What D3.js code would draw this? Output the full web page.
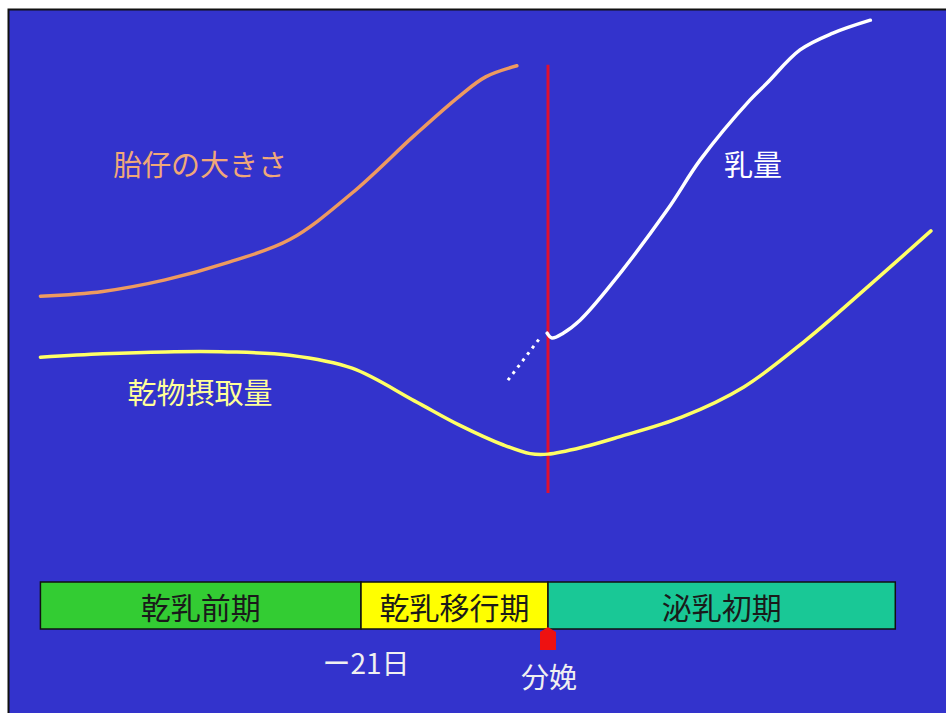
<!DOCTYPE html>
<html><head><meta charset="utf-8">
<script src="https://cdn.jsdelivr.net/npm/d3@7"></script>
<style>html,body{margin:0;padding:0;background:#fff;}svg{display:block;}</style>
</head><body>
<svg id="chart" width="946" height="713"></svg>
<script>
// Days relative to calving (0 = 分娩); values in relative units (0-100)
const fetusDays   = [-57, -50, -43, -36, -29, -22, -15, -10, -7, -3.5];
const fetusValues = [41.0, 42.0, 44.4, 48.0, 52.8, 62.5, 74.5, 82.6, 86.7, 89.0];

const dmiDays   = [-57, -50, -43, -36, -29, -22, -15, -10, -5, -2, 0, 4, 8, 15, 22, 29, 36, 43];
const dmiValues = [28.3, 29.0, 29.4, 29.4, 28.7, 26.0, 19.2, 14.2, 10.0, 8.2, 8.1, 9.6, 11.7, 15.8, 22.1, 31.9, 43.1, 54.6];

const milkPreDays   = [-4.5, -0.9];
const milkPreValues = [23.5, 32.3];
const milkDays   = [-0.1, 0.45, 1.7, 3.6, 6.6, 13.4, 17.1, 22.7, 24.6, 28.3, 32.0, 36.2];
const milkValues = [33.3, 32.3, 33.3, 36.0, 42.3, 59.0, 69.4, 81.9, 85.4, 92.3, 95.8, 98.5];

const phaseNames = ["乾乳前期", "乾乳移行期", "泌乳初期"];
const phaseStart = [-57, -21, 0];
const phaseEnd   = [-21, 0, 39];
const phaseColors = ["#33cc33", "#ffff00", "#19c896"];

const calvingDay = 0;
const calvingLineTop = 89.2;
const transitionLabel = "ー21日";
const calvingLabel = "分娩";
const seriesLabels = ["胎仔の大きさ", "乾物摂取量", "乳量"];

const svg = d3.select("#chart");
const x = d3.scaleLinear().domain([-21, 0]).range([361, 548]);
const y = d3.scaleLinear().domain([0, 100]).range([493, 13]);
const font = "'Noto Sans CJK JP', 'Noto Sans', sans-serif";

// background panel
svg.append("rect").attr("x", 8.5).attr("y", 9.5).attr("width", 946).attr("height", 713)
  .attr("fill", "#3333cc").attr("stroke", "#111").attr("stroke-width", 2);

const line = d3.line().x(d => x(d[0])).y(d => y(d[1])).curve(d3.curveCatmullRom.alpha(0.5));
const zip = (a, b) => a.map((v, i) => [v, b[i]]);

// calving vertical line
svg.append("line").attr("x1", x(calvingDay)).attr("x2", x(calvingDay))
  .attr("y1", y(calvingLineTop)).attr("y2", y(0))
  .attr("stroke", "#e01030").attr("stroke-width", 3);

// fetus size
svg.append("path").attr("d", line(zip(fetusDays, fetusValues)))
  .attr("fill", "none").attr("stroke", "#ee9a60").attr("stroke-width", 3.5).attr("stroke-linecap", "round");
// DMI
svg.append("path").attr("d", line(zip(dmiDays, dmiValues)))
  .attr("fill", "none").attr("stroke", "#ffff66").attr("stroke-width", 3.5).attr("stroke-linecap", "round");
// milk (pre, dotted)
svg.append("path").attr("d", line(zip(milkPreDays, milkPreValues)))
  .attr("fill", "none").attr("stroke", "#ffffff").attr("stroke-width", 3).attr("stroke-dasharray", "3,5");
// milk
svg.append("path").attr("d", line(zip(milkDays, milkValues)))
  .attr("fill", "none").attr("stroke", "#ffffff").attr("stroke-width", 3.5).attr("stroke-linecap", "round");

// series labels
svg.append("text").attr("x", 200).attr("y", 163).text(seriesLabels[0])
  .attr("fill", "#f0a878");
svg.append("text").attr("x", 200).attr("y", 391).text(seriesLabels[1])
  .attr("fill", "#ffff99");
svg.append("text").attr("x", 753).attr("y", 163).text(seriesLabels[2])
  .attr("fill", "#ffffff");
svg.selectAll("text").attr("text-anchor", "middle").attr("dominant-baseline", "central")
  .attr("font-family", font).attr("font-size", 29);

// phase bar
const barTop = 582, barH = 47;
const phases = phaseNames.map((n, i) => ({name: n, s: phaseStart[i], e: phaseEnd[i], c: phaseColors[i]}));
svg.selectAll("rect.phase").data(phases).enter().append("rect").attr("class", "phase")
  .attr("x", d => x(d.s)).attr("y", barTop).attr("width", d => x(d.e) - x(d.s)).attr("height", barH)
  .attr("fill", d => d.c).attr("stroke", "#111").attr("stroke-width", 1.5);
svg.selectAll("text.phase").data(phases).enter().append("text").attr("class", "phase")
  .attr("x", d => (x(d.s) + x(d.e)) / 2).attr("y", barTop + barH / 2)
  .attr("text-anchor", "middle").attr("dominant-baseline", "central")
  .attr("font-family", font).attr("font-size", 30).attr("fill", "#1a1a1a").text(d => d.name);

// calving marker
const cx = x(calvingDay);
svg.append("path").attr("d", `M${cx-8},650 L${cx-8},632 L${cx},627 L${cx+8},632 L${cx+8},650 Z`)
  .attr("fill", "#ee1111");

svg.append("text").attr("x", x(-21) + 5).attr("y", 662).text(transitionLabel)
  .attr("text-anchor", "middle").attr("dominant-baseline", "central")
  .attr("font-family", font).attr("font-size", 28).attr("fill", "#f0f0f0");
svg.append("text").attr("x", cx + 1).attr("y", 676).text(calvingLabel)
  .attr("text-anchor", "middle").attr("dominant-baseline", "central")
  .attr("font-family", font).attr("font-size", 28).attr("fill", "#f0f0f0");
</script>
</body></html>
